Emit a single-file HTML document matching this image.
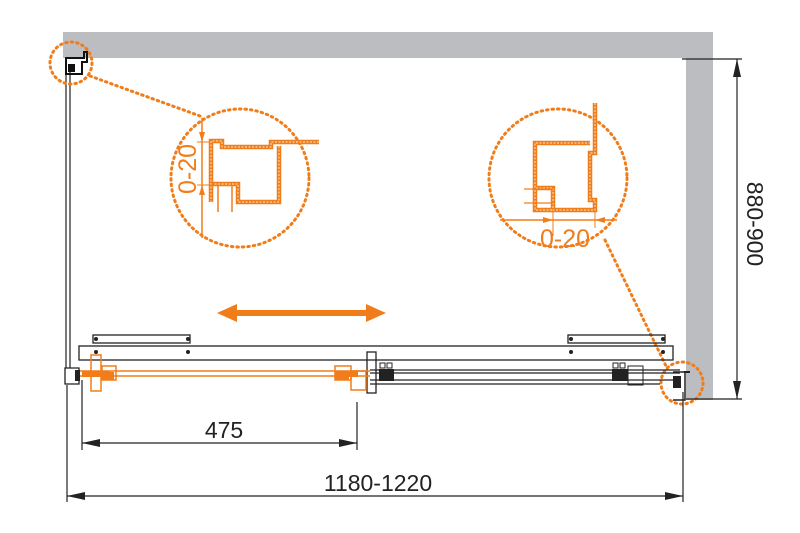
<!DOCTYPE html>
<html><head><meta charset="utf-8"><style>
html,body{margin:0;padding:0;background:#fff;width:800px;height:533px;overflow:hidden}
svg{display:block}
text{font-family:"Liberation Sans",Arial,sans-serif}
</style></head><body>
<svg width="800" height="533" viewBox="0 0 800 533" xmlns="http://www.w3.org/2000/svg">
<!-- walls -->
<rect x="63" y="32" width="650" height="26" fill="#bcbdc1"/>
<rect x="686" y="58" width="27" height="342" fill="#bcbdc1"/>
<!-- left glass vertical -->
<line x1="66" y1="72" x2="66" y2="368" stroke="#222" stroke-width="1.2"/>
<line x1="70" y1="72" x2="70" y2="368" stroke="#222" stroke-width="1.2"/>
<!-- top-left profile -->
<path d="M66 58 h18 v-6 h3 v10 h-5 v12 h-16 z" fill="none" stroke="#111" stroke-width="2"/>
<rect x="68" y="64" width="7" height="8" fill="#111"/>
<!-- dotted callout circles -->
<g fill="none" stroke="#f07d1a" stroke-width="3" stroke-dasharray="1.5 4" stroke-linecap="round">
<circle cx="71" cy="63" r="21"/>
<circle cx="240" cy="178" r="69"/>
<circle cx="558" cy="178" r="69"/>
<circle cx="682" cy="383" r="21"/>
<line x1="90" y1="76" x2="200" y2="116"/>
<line x1="605" y1="240" x2="666" y2="366"/>
</g>
<!-- left detail profile -->
<g fill="none" stroke-linejoin="miter">
<path id="lp" d="M319 142 H271 V147 H222 V141 H211 V202 H218 M280 147 V202 H238 V184 H216" />
</g>
<g fill="none" stroke="#f07d1a" stroke-width="4.5">
<path d="M319 142 H271 V147 H222 V141 H211 V202"/>
<path d="M279 146 V202 H238 V184 H213"/>
</g>
<g fill="none" stroke="#fbd3ad" stroke-width="1.2" stroke-dasharray="2 1.5">
<path d="M319 142 H271 V147 H222 V141 H211 V202"/>
<path d="M279 146 V202 H238 V184 H213"/>
</g>
<g stroke="#f07d1a" stroke-width="1.5" fill="none">
<line x1="218" y1="186" x2="218" y2="212"/>
<line x1="232" y1="186" x2="232" y2="212"/>
<line x1="202" y1="118" x2="202" y2="238"/>
<line x1="197" y1="142" x2="210" y2="142" stroke-width="1"/>
<line x1="197" y1="185" x2="212" y2="185" stroke-width="1"/>
</g>
<path d="M202 142 l-3 -10 h6 z M202 185 l-3 10 h6 z" fill="#f07d1a"/>
<text x="0" y="0" font-size="25" fill="#f07d1a" text-anchor="middle" transform="translate(196,169) rotate(-90)">0-20</text>
<!-- right detail profile -->
<g fill="none" stroke="#f07d1a" stroke-width="4.5">
<path d="M595 103 V153 H590 V200 H595 V210 H553 V188 H535 V143 H590"/>
<path d="M535 190 V210 H553"/>
</g>
<g fill="none" stroke="#fbd3ad" stroke-width="1.2" stroke-dasharray="2 1.5">
<path d="M595 103 V153 H590 V200 H595 V210 H553 V188 H535 V143 H590"/>
<path d="M535 190 V210 H553"/>
</g>
<g stroke="#f07d1a" fill="none">
<line x1="524" y1="189" x2="553" y2="189" stroke-width="1.2"/>
<line x1="524" y1="203" x2="553" y2="203" stroke-width="1.2"/>
<line x1="500" y1="220" x2="617" y2="220" stroke-width="1.5"/>
<line x1="553" y1="212" x2="553" y2="236" stroke-width="1"/>
<line x1="595" y1="212" x2="595" y2="228" stroke-width="1"/>
</g>
<path d="M553 220 l-10 -3 v6 z M595 220 l10 -3 v6 z" fill="#f07d1a"/>
<text x="540" y="247" font-size="25" fill="#f07d1a">0-20</text>
<!-- orange move arrow -->
<rect x="236" y="310" width="132" height="6" fill="#f07d1a"/>
<path d="M217 313 l20 -9 v18 z M386 313 l-20 -9 v18 z" fill="#f07d1a"/>
<!-- top rail -->
<g fill="none" stroke="#222" stroke-width="1.3">
<rect x="93" y="335" width="97" height="8"/>
<rect x="568" y="335" width="97" height="8"/>
<rect x="79" y="346" width="594" height="14"/>
<line x1="370" y1="370" x2="680" y2="370"/>
<line x1="370" y1="373" x2="680" y2="373"/>
<line x1="370" y1="380" x2="680" y2="380"/>
<line x1="370" y1="384" x2="660" y2="384"/>
<rect x="367" y="352" width="9" height="41"/>
<path d="M65 368 h14 v16 h-14 z"/>
</g>
<g fill="#222">
<circle cx="96" cy="339" r="2"/><circle cx="188" cy="339" r="2"/>
<circle cx="571" cy="339" r="2"/><circle cx="663" cy="339" r="2"/>
<circle cx="96" cy="352" r="2"/><circle cx="188" cy="352" r="2"/>
<circle cx="571" cy="352" r="2"/><circle cx="663" cy="352" r="2"/>
<rect x="379" y="369" width="15" height="12"/>
<rect x="612" y="369" width="16" height="12"/>
<rect x="75" y="370" width="5" height="11"/>
<rect x="673" y="376" width="8" height="12"/>
</g>
<g fill="none" stroke="#222" stroke-width="1">
<rect x="380" y="363" width="5" height="5"/><rect x="387" y="363" width="5" height="5"/>
<rect x="613" y="363" width="5" height="5"/><rect x="620" y="363" width="5" height="5"/>
<rect x="628" y="366" width="15" height="19"/>
<path d="M673 372 h12 v28 h-12" stroke-width="1.5"/>
<path d="M684 372 h6" stroke-width="2"/>
</g>
<!-- orange panel -->
<g stroke="#f07d1a" fill="none" stroke-width="1.5">
<line x1="80" y1="371" x2="370" y2="371"/>
<line x1="80" y1="376" x2="370" y2="376"/>
<rect x="91" y="355" width="10" height="36"/>
<rect x="102" y="366" width="14" height="14"/>
<rect x="335" y="366" width="16" height="14"/>
<rect x="351" y="371" width="15" height="19"/>
</g>
<g fill="#f07d1a">
<rect x="82" y="371" width="28" height="6"/>
<rect x="336" y="371" width="22" height="6"/>
<rect x="102" y="372" width="12" height="8"/>
<rect x="335" y="372" width="14" height="8"/>
</g>
<!-- dimension lines -->
<g stroke="#222" stroke-width="1.2">
<line x1="67" y1="385" x2="67" y2="502"/>
<line x1="82" y1="380" x2="82" y2="450"/>
<line x1="357" y1="402" x2="357" y2="450"/>
<line x1="683" y1="392" x2="683" y2="502"/>
<line x1="82" y1="443" x2="357" y2="443"/>
<line x1="67" y1="496" x2="683" y2="496"/>
<line x1="682" y1="59" x2="742" y2="59"/>
<line x1="686" y1="399" x2="742" y2="399"/>
<line x1="737" y1="59" x2="737" y2="399"/>
</g>
<g fill="#222">
<path d="M82 443 l18 -4 v8 z M357 443 l-18 -4 v8 z"/>
<path d="M67 496 l18 -4 v8 z M683 496 l-18 -4 v8 z"/>
<path d="M737 59 l-4 18 h8 z M737 399 l-4 -18 h8 z"/>
</g>
<text x="224" y="438" font-size="23" fill="#222" text-anchor="middle">475</text>
<text x="378" y="491" font-size="23" fill="#222" text-anchor="middle">1180-1220</text>
<text x="0" y="0" font-size="23" fill="#222" text-anchor="middle" transform="translate(747,224) rotate(90)">880-900</text>
</svg>
</body></html>
